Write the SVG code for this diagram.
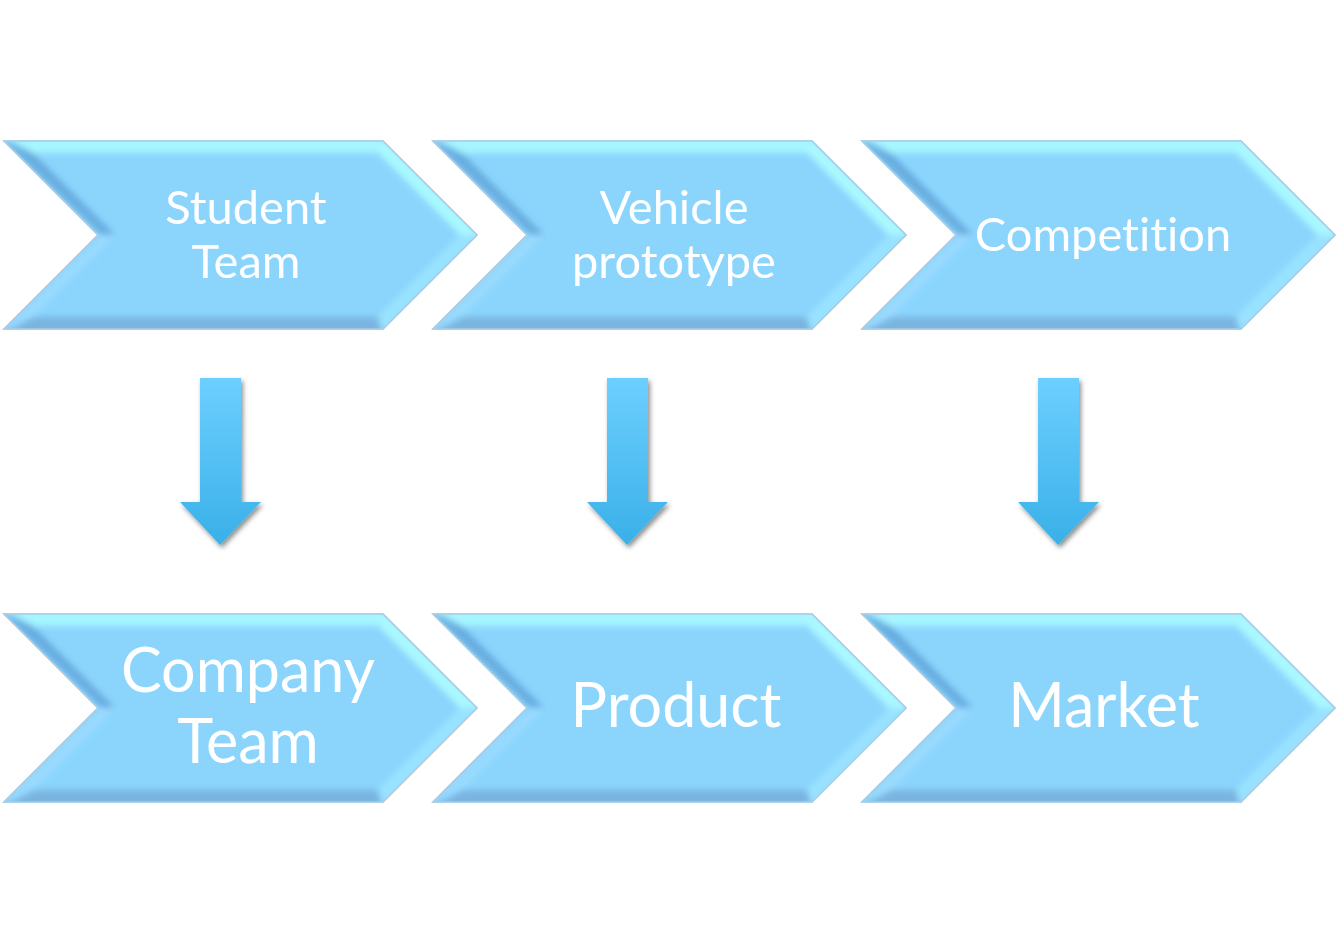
<svg xmlns="http://www.w3.org/2000/svg" width="1338" height="945" viewBox="0 0 1338 945">
<defs>
<style>
.base{fill:#8bd5fd;stroke:#a9cde6;stroke-width:1.5}
.t{font-family:Lato,"Open Sans",sans-serif;fill:#ffffff;text-anchor:middle;font-variant-ligatures:none}
.s{font-size:47px}
.b{font-size:61px}
</style>
<linearGradient id="arrG" x1="0" y1="0" x2="0" y2="1">
<stop offset="0" stop-color="#6dcfff"/>
<stop offset="1" stop-color="#39b0e8"/>
</linearGradient>
<filter id="blur" x="-5%" y="-5%" width="110%" height="110%"><feGaussianBlur stdDeviation="3"/></filter>
<filter id="shadow" x="-30%" y="-10%" width="160%" height="130%"><feDropShadow dx="2" dy="3" stdDeviation="2.5" flood-color="#000" flood-opacity="0.45"/></filter>
<clipPath id="cc"><polygon points="0,0 379,0 473,94 379,188 0,188 94,94"/></clipPath>
<g id="chev">
<polygon class="base" points="0,0 379,0 473,94 379,188 0,188 94,94"/>
<g clip-path="url(#cc)">
<g filter="url(#blur)">
<polygon points="0,-4 379,-4 374,12 29,12" fill="#a6f6ff"/>
<polygon points="-4,-4 98,94 111,94 29,12" fill="#5b9ed4" opacity="0.75"/>
<polygon points="98,94 -4,192 29,176 111,94" fill="#9fdcff" opacity="0.8"/>
<polygon points="0,192 379,192 374,176 29,176" fill="#77aedb" opacity="0.85"/>
<polygon points="379,-4 477,94 456,94 374,12" fill="#aefcff" opacity="0.9"/>
<polygon points="477,94 379,192 374,176 456,94" fill="#9ee6ff" opacity="0.8"/>
</g>
</g>
<polygon points="0,0 379,0 473,94 379,188 0,188 94,94" fill="none" stroke="#a9cde6" stroke-width="1.5"/>
</g>
<polygon id="arr" points="20,0 61,0 61,124 81,124 40,167 0,124 20,124" fill="url(#arrG)" filter="url(#shadow)"/>
</defs>
<rect width="1338" height="945" fill="#ffffff"/>
<g id="student-team">
<use href="#chev" x="4" y="141"/>
<text class="t s" x="246" y="224">Student</text>
<text class="t s" x="246" y="278">Team</text>
</g>
<g id="vehicle-prototype">
<use href="#chev" x="433" y="141"/>
<text class="t s" x="674" y="224">Vehicle</text>
<text class="t s" x="674" y="278">prototype</text>
</g>
<g id="competition">
<use href="#chev" x="862" y="141"/>
<text class="t s" x="1103" y="251">Competition</text>
</g>
<g id="company-team">
<use href="#chev" x="4" y="614"/>
<text class="t b" x="248" y="692">Company</text>
<text class="t b" x="248" y="763">Team</text>
</g>
<g id="product">
<use href="#chev" x="433" y="614"/>
<text class="t b" x="676" y="727">Product</text>
</g>
<g id="market">
<use href="#chev" x="862" y="614"/>
<text class="t b" x="1104" y="727">Market</text>
</g>
<g id="connectors">
<use href="#arr" x="180" y="378"/>
<use href="#arr" x="587" y="378"/>
<use href="#arr" x="1018" y="378"/>
</g>
</svg>
